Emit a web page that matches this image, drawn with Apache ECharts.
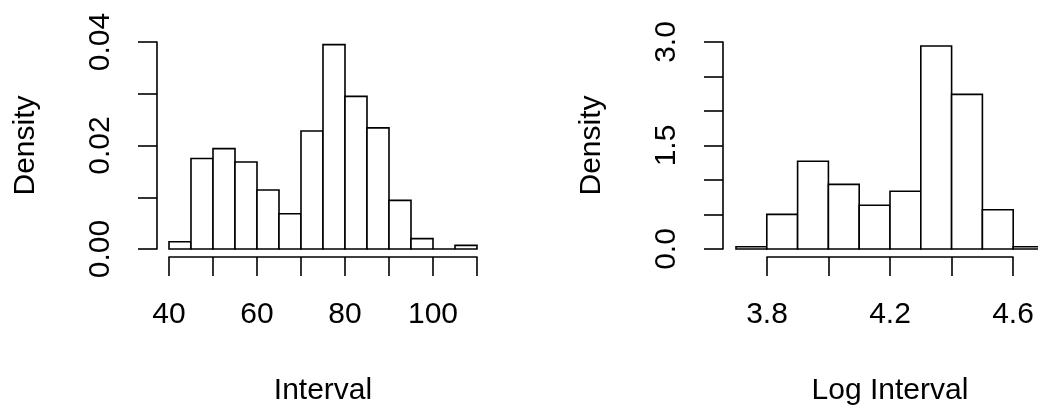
<!DOCTYPE html>
<html>
<head>
<meta charset="utf-8">
<style>
  html, body { margin:0; padding:0; background:#fff; }
  #chart { width:1038px; height:408px; }
</style>
<script src="https://cdn.jsdelivr.net/npm/echarts@6/dist/echarts.min.js"></script>
</head>
<body>
<div id="chart"></div>
<script>
// Histogram of waiting intervals (left) and of their logs (right).
var leftBreaks  = [40, 45, 50, 55, 60, 65, 70, 75, 80, 85, 90, 95, 100, 105, 110];
var leftDensity = [0.0014, 0.0175, 0.0194, 0.0168, 0.0114, 0.0068, 0.0228, 0.0395, 0.0295, 0.0234, 0.0094, 0.0020, 0, 0.0007];

var rightBreaks  = [3.7, 3.8, 3.9, 4.0, 4.1, 4.2, 4.3, 4.4, 4.5, 4.6, 4.7];
var rightDensity = [0.033, 0.502, 1.271, 0.936, 0.635, 0.836, 2.943, 2.241, 0.569, 0.033];

var FONT = 'Liberation Sans';
var FS = 30;
var LW = 1.6;

function bins(breaks, dens){
  return dens.map(function(d, i){ return [breaks[i], breaks[i+1], d]; });
}

function renderBar(params, api){
  var top = api.coord([api.value(0), api.value(2)]);
  var bot = api.coord([api.value(1), 0]);
  return {
    type:'rect',
    shape:{ x:top[0], y:top[1], width:bot[0]-top[0], height:bot[1]-top[1] },
    style:{ fill:'#fff', stroke:'#000', lineWidth:LW }
  };
}

var lineStyle = { color:'#000', width:LW };
var label = { color:'#000', fontFamily:FONT, fontSize:FS };

function xAx(idx, min, max, step, show, fmt, name){
  return {
    type:'value', gridIndex:idx, min:min, max:max, interval:step, show:show,
    offset:8, position:'bottom',
    axisLine:{ show:true, onZero:false, lineStyle:lineStyle },
    axisTick:{ show:true, length:19, lineStyle:lineStyle },
    axisLabel:Object.assign({ margin:43, formatter:fmt, hideOverlap:false, showMinLabel:true, showMaxLabel:true }, label),
    splitLine:{ show:false },
    name:name, nameLocation:'middle', nameGap:119,
    nameTextStyle:{ color:'#000', fontFamily:FONT, fontSize:FS }
  };
}

function yAx(idx, max, step, show, off, fmt){
  return {
    type:'value', gridIndex:idx, min:0, max:max, interval:step, show:show,
    offset:off, position:'left',
    axisLine:{ show:true, onZero:false, lineStyle:lineStyle },
    axisTick:{ show:true, length:19, lineStyle:lineStyle },
    axisLabel:Object.assign({ margin:41, rotate:90, formatter:fmt, hideOverlap:false, showMinLabel:true, showMaxLabel:true }, label),
    splitLine:{ show:false },
    name:'Density', nameLocation:'middle', nameGap:116, nameRotate:90,
    nameTextStyle:{ color:'#000', fontFamily:FONT, fontSize:FS }
  };
}

var chart = echarts.init(document.getElementById('chart'), null, { renderer:'canvas' });

chart.setOption({
  animation:false,
  backgroundColor:'#fff',
  grid:[
    { left:169, top:42, width:308, height:207, outerBoundsMode:'none', containLabel:false },
    { left:736, top:42, width:308, height:207, outerBoundsMode:'none', containLabel:false },
    { left:767, top:42, width:246, height:207, outerBoundsMode:'none', containLabel:false }
  ],
  xAxis:[
    xAx(0, 40, 110, 10, true, function(v){ return Math.round(v) % 20 === 0 ? String(v) : ''; }, 'Interval'),
    xAx(1, 3.7, 4.7, 0.1, false, null, ''),
    xAx(2, 3.8, 4.6, 0.2, true, function(v){
      var k = Math.round(v * 10);
      return (k === 38 || k === 42 || k === 46) ? v.toFixed(1) : '';
    }, 'Log Interval')
  ],
  yAxis:[
    yAx(0, 0.04, 0.01, true, 12, function(v){ return Math.round(v * 100) % 2 === 0 ? v.toFixed(2) : ''; }),
    yAx(1, 3.0, 0.5, true, 13, function(v){ return Math.round(v * 2) % 3 === 0 ? v.toFixed(1) : ''; }),
    yAx(2, 3.0, 0.5, false, 0, null)
  ],
  series:[
    { type:'custom', xAxisIndex:0, yAxisIndex:0, clip:false, renderItem:renderBar,
      encode:{ x:[0,1], y:2 }, data:bins(leftBreaks, leftDensity) },
    { type:'custom', xAxisIndex:1, yAxisIndex:1, clip:false, renderItem:renderBar,
      encode:{ x:[0,1], y:2 }, data:bins(rightBreaks, rightDensity) }
  ]
});
</script>
</body>
</html>
